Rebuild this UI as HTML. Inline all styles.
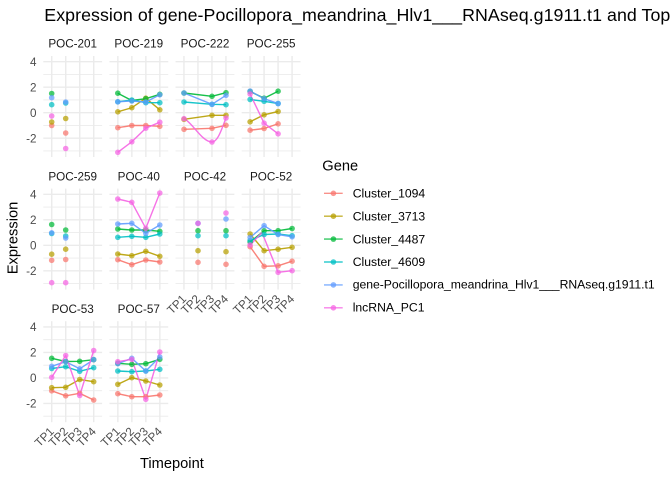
<!DOCTYPE html>
<html>
<head>
<meta charset="utf-8">
<style>
html,body{margin:0;padding:0;background:#fff;}
svg{display:block;font-family:"Liberation Sans",Arial,sans-serif;}
.gM{stroke:#EBEBEB;stroke-width:1.42;}
.gm{stroke:#EBEBEB;stroke-width:0.9;}
.yt{font-size:11.7px;fill:#4D4D4D;text-anchor:end;}
.xt{font-size:11.7px;fill:#4D4D4D;text-anchor:end;}
.st{font-size:11.7px;fill:#1A1A1A;text-anchor:middle;}
.lg{font-size:12.2px;fill:#000;}
.ln{fill:none;stroke-width:1.42;stroke-linejoin:round;stroke-opacity:0.9;}
.pt{fill-opacity:0.72;}
</style>
</head>
<body>
<svg width="672" height="480" viewBox="0 0 672 480" xmlns="http://www.w3.org/2000/svg">
<rect width="672" height="480" fill="#fff"/>

<defs>
<g id="grid">
  <line class="gm" x1="0" x2="58.8" y1="18.45" y2="18.45"/>
  <line class="gm" x1="0" x2="58.8" y1="43.95" y2="43.95"/>
  <line class="gm" x1="0" x2="58.8" y1="69.45" y2="69.45"/>
  <line class="gm" x1="0" x2="58.8" y1="94.95" y2="94.95"/>
  <line class="gM" x1="0" x2="58.8" y1="5.7" y2="5.7"/>
  <line class="gM" x1="0" x2="58.8" y1="31.2" y2="31.2"/>
  <line class="gM" x1="0" x2="58.8" y1="56.7" y2="56.7"/>
  <line class="gM" x1="0" x2="58.8" y1="82.2" y2="82.2"/>
  <line class="gM" x1="8.4" x2="8.4" y1="0" y2="101"/>
  <line class="gM" x1="22.4" x2="22.4" y1="0" y2="101"/>
  <line class="gM" x1="36.4" x2="36.4" y1="0" y2="101"/>
  <line class="gM" x1="50.4" x2="50.4" y1="0" y2="101"/>
</g>
</defs>

<!-- Title -->
<text x="44.3" y="21" font-size="17.8" fill="#000" textLength="626" lengthAdjust="spacing">Expression of gene-Pocillopora_meandrina_Hlv1___RNAseq.g1911.t1 and Top</text>

<!-- Grids row 1 -->
<use href="#grid" x="43.3" y="56"/>
<use href="#grid" x="109.43" y="56"/>
<use href="#grid" x="175.56" y="56"/>
<use href="#grid" x="241.69" y="56"/>
<!-- Grids row 2 -->
<use href="#grid" x="43.3" y="188.6"/>
<use href="#grid" x="109.43" y="188.6"/>
<use href="#grid" x="175.56" y="188.6"/>
<use href="#grid" x="241.69" y="188.6"/>
<!-- Grids row 3 -->
<use href="#grid" x="43.3" y="321.2"/>
<use href="#grid" x="109.43" y="321.2"/>

<!-- Strip labels -->
<text class="st" x="72.7" y="47.7">POC-201</text>
<text class="st" x="138.8" y="47.7">POC-219</text>
<text class="st" x="205" y="47.7">POC-222</text>
<text class="st" x="271.1" y="47.7">POC-255</text>
<text class="st" x="72.7" y="180.3">POC-259</text>
<text class="st" x="138.8" y="180.3">POC-40</text>
<text class="st" x="205" y="180.3">POC-42</text>
<text class="st" x="271.1" y="180.3">POC-52</text>
<text class="st" x="72.7" y="312.9">POC-53</text>
<text class="st" x="138.8" y="312.9">POC-57</text>

<!-- Y tick labels -->
<text class="yt" x="36.5" y="65.9">4</text>
<text class="yt" x="36.5" y="91.4">2</text>
<text class="yt" x="36.5" y="116.9">0</text>
<text class="yt" x="36.5" y="142.4">-2</text>
<text class="yt" x="36.5" y="198.5">4</text>
<text class="yt" x="36.5" y="224">2</text>
<text class="yt" x="36.5" y="249.5">0</text>
<text class="yt" x="36.5" y="275">-2</text>
<text class="yt" x="36.5" y="331.1">4</text>
<text class="yt" x="36.5" y="356.6">2</text>
<text class="yt" x="36.5" y="382.1">0</text>
<text class="yt" x="36.5" y="407.6">-2</text>

<!-- X tick labels row 2 (POC-42, POC-52) -->
<text class="xt" x="187" y="299.6" transform="rotate(-45 187 299.6)">TP1</text>
<text class="xt" x="201" y="299.6" transform="rotate(-45 201 299.6)">TP2</text>
<text class="xt" x="215" y="299.6" transform="rotate(-45 215 299.6)">TP3</text>
<text class="xt" x="229" y="299.6" transform="rotate(-45 229 299.6)">TP4</text>
<text class="xt" x="253.1" y="299.6" transform="rotate(-45 253.1 299.6)">TP1</text>
<text class="xt" x="267.1" y="299.6" transform="rotate(-45 267.1 299.6)">TP2</text>
<text class="xt" x="281.1" y="299.6" transform="rotate(-45 281.1 299.6)">TP3</text>
<text class="xt" x="295.1" y="299.6" transform="rotate(-45 295.1 299.6)">TP4</text>
<!-- X tick labels row 3 (POC-53, POC-57) -->
<text class="xt" x="54.7" y="432.2" transform="rotate(-45 54.7 432.2)">TP1</text>
<text class="xt" x="68.7" y="432.2" transform="rotate(-45 68.7 432.2)">TP2</text>
<text class="xt" x="82.7" y="432.2" transform="rotate(-45 82.7 432.2)">TP3</text>
<text class="xt" x="96.7" y="432.2" transform="rotate(-45 96.7 432.2)">TP4</text>
<text class="xt" x="120.8" y="432.2" transform="rotate(-45 120.8 432.2)">TP1</text>
<text class="xt" x="134.8" y="432.2" transform="rotate(-45 134.8 432.2)">TP2</text>
<text class="xt" x="148.8" y="432.2" transform="rotate(-45 148.8 432.2)">TP3</text>
<text class="xt" x="162.8" y="432.2" transform="rotate(-45 162.8 432.2)">TP4</text>

<!-- Axis titles -->
<text x="171.9" y="468" font-size="14.67" text-anchor="middle" fill="#000">Timepoint</text>
<text x="17.5" y="238" font-size="14.67" text-anchor="middle" fill="#000" transform="rotate(-90 17.5 238)">Expression</text>

<!-- ===== Lines ===== -->
<!-- POC-219 -->
<polyline class="ln" stroke="#F8766D" points="117.8,127.7 131.8,125.5 145.8,125.5 159.8,126.3"/>
<polyline class="ln" stroke="#B79F00" points="117.8,111.8 131.8,107.7 145.8,98.2 159.8,109.8"/>
<polyline class="ln" stroke="#00BA38" points="117.8,93.2 131.8,100.5 145.8,98.7 159.8,94.3"/>
<polyline class="ln" stroke="#00BFC4" points="117.8,101.8 131.8,100 145.8,102.7 159.8,102.7"/>
<polyline class="ln" stroke="#619CFF" points="117.8,101.8 131.8,101 145.8,102 159.8,94.8"/>
<polyline class="ln" stroke="#F564E3" points="117.8,152.3 131.8,141.8 145.8,128.2 159.8,122.2"/>
<!-- POC-222 -->
<polyline class="ln" stroke="#F8766D" points="184,129.3 212,128.3 226,125.3"/>
<polyline class="ln" stroke="#B79F00" points="184,119.3 212,115.3 226,115.3"/>
<polyline class="ln" stroke="#00BA38" points="184,93 212,96.3 226,92.7"/>
<polyline class="ln" stroke="#00BFC4" points="184,102 212,104.3 226,104.7"/>
<polyline class="ln" stroke="#619CFF" points="184,93 212,104.3 226,95.3"/>
<path class="ln" stroke="#F564E3" d="M184,118.7 C192,122 202,142 212,142 C218,142 222,128 226,118"/>
<!-- POC-255 -->
<polyline class="ln" stroke="#F8766D" points="250.1,130.2 264.1,128.5 278.1,123.8"/>
<polyline class="ln" stroke="#B79F00" points="250.1,121.8 264.1,114.8 278.1,111.5"/>
<polyline class="ln" stroke="#00BA38" points="250.1,91.5 264.1,98.2 278.1,91.2"/>
<polyline class="ln" stroke="#00BFC4" points="250.1,99.5 264.1,101.3 278.1,103.5"/>
<polyline class="ln" stroke="#619CFF" points="250.1,91 264.1,98.7 278.1,103.6"/>
<polyline class="ln" stroke="#F564E3" points="250.1,94 264.1,123.2 278.1,133.8"/>
<!-- POC-40 -->
<polyline class="ln" stroke="#F8766D" points="117.8,259.7 131.8,264.7 145.8,260 159.8,262"/>
<polyline class="ln" stroke="#B79F00" points="117.8,254 131.8,255.7 145.8,251.3 159.8,256.3"/>
<polyline class="ln" stroke="#00BA38" points="117.8,229 131.8,230 145.8,230 159.8,231.3"/>
<polyline class="ln" stroke="#00BFC4" points="117.8,237.3 131.8,236.3 145.8,237.3 159.8,234"/>
<polyline class="ln" stroke="#619CFF" points="117.8,224 131.8,223.3 145.8,233.3 159.8,225"/>
<polyline class="ln" stroke="#F564E3" points="117.8,199 131.8,202.3 145.8,228.3 159.8,193"/>
<!-- POC-52 -->
<polyline class="ln" stroke="#F8766D" points="250.1,246.7 264.1,266.3 278.1,265.8 292.1,261.2"/>
<polyline class="ln" stroke="#B79F00" points="250.1,234 264.1,250.7 278.1,249.2 292.1,247.3"/>
<polyline class="ln" stroke="#00BA38" points="250.1,242 264.1,230.7 278.1,230.7 292.1,228.5"/>
<polyline class="ln" stroke="#00BFC4" points="250.1,240.5 264.1,234.5 278.1,234 292.1,235.7"/>
<polyline class="ln" stroke="#619CFF" points="250.1,237.5 264.1,225.7 278.1,234.5 292.1,236.8"/>
<polyline class="ln" stroke="#F564E3" points="250.1,245 262,232.5 278.1,272.3 292.1,270.7"/>
<!-- POC-53 -->
<polyline class="ln" stroke="#F8766D" points="51.7,390.8 65.7,395.8 79.7,393.3 93.7,400"/>
<polyline class="ln" stroke="#B79F00" points="51.7,387.7 65.7,387.3 79.7,379.5 93.7,381.7"/>
<polyline class="ln" stroke="#00BA38" points="51.7,358.3 65.7,361.5 79.7,361.3 93.7,359.7"/>
<polyline class="ln" stroke="#00BFC4" points="51.7,368.5 65.7,366.7 79.7,371.3 93.7,367.7"/>
<polyline class="ln" stroke="#619CFF" points="51.7,366.3 65.7,361.7 79.7,368.8 93.7,359.6"/>
<polyline class="ln" stroke="#F564E3" points="51.7,377.3 65.7,355.5 79.7,395.5 93.7,350.5"/>
<!-- POC-57 -->
<polyline class="ln" stroke="#F8766D" points="117.8,393.7 131.8,396.7 145.8,396.7 159.8,395"/>
<polyline class="ln" stroke="#B79F00" points="117.8,384.3 131.8,377.7 145.8,381 159.8,385"/>
<polyline class="ln" stroke="#00BA38" points="117.8,363.3 131.8,364.3 145.8,363.7 159.8,359.3"/>
<polyline class="ln" stroke="#00BFC4" points="117.8,371 131.8,371.7 145.8,371 159.8,369.3"/>
<polyline class="ln" stroke="#619CFF" points="117.8,363.7 131.8,358.3 145.8,371 159.8,357"/>
<polyline class="ln" stroke="#F564E3" points="117.8,361.7 131.8,359.3 145.8,399.3 159.8,352"/>

<!-- ===== Points ===== -->
<g class="pt">
<!-- POC-201 -->
<g fill="#F8766D"><circle cx="51.7" cy="125.5" r="2.8"/><circle cx="65.7" cy="133" r="2.8"/></g>
<g fill="#B79F00"><circle cx="51.7" cy="122" r="2.8"/><circle cx="65.7" cy="118.5" r="2.8"/></g>
<g fill="#00BA38"><circle cx="51.7" cy="93.5" r="2.8"/></g>
<g fill="#00BFC4"><circle cx="51.7" cy="104.7" r="2.8"/><circle cx="65.7" cy="103" r="2.8"/></g>
<g fill="#619CFF"><circle cx="51.7" cy="97.7" r="2.8"/><circle cx="65.7" cy="102" r="2.8"/></g>
<g fill="#F564E3"><circle cx="51.7" cy="116" r="2.8"/><circle cx="65.7" cy="148.5" r="2.8"/></g>
<!-- POC-219 -->
<g fill="#F8766D"><circle cx="117.8" cy="127.7" r="2.8"/><circle cx="131.8" cy="125.5" r="2.8"/><circle cx="145.8" cy="125.5" r="2.8"/><circle cx="159.8" cy="126.3" r="2.8"/></g>
<g fill="#B79F00"><circle cx="117.8" cy="111.8" r="2.8"/><circle cx="131.8" cy="107.7" r="2.8"/><circle cx="145.8" cy="98.2" r="2.8"/><circle cx="159.8" cy="109.8" r="2.8"/></g>
<g fill="#00BA38"><circle cx="117.8" cy="93.2" r="2.8"/><circle cx="131.8" cy="100.5" r="2.8"/><circle cx="145.8" cy="98.7" r="2.8"/><circle cx="159.8" cy="94.3" r="2.8"/></g>
<g fill="#00BFC4"><circle cx="117.8" cy="101.8" r="2.8"/><circle cx="131.8" cy="100" r="2.8"/><circle cx="145.8" cy="102.7" r="2.8"/><circle cx="159.8" cy="102.7" r="2.8"/></g>
<g fill="#619CFF"><circle cx="117.8" cy="101.8" r="2.8"/><circle cx="131.8" cy="101" r="2.8"/><circle cx="145.8" cy="102" r="2.8"/><circle cx="159.8" cy="94.8" r="2.8"/></g>
<g fill="#F564E3"><circle cx="117.8" cy="152.3" r="2.8"/><circle cx="131.8" cy="141.8" r="2.8"/><circle cx="145.8" cy="128.2" r="2.8"/><circle cx="159.8" cy="122.2" r="2.8"/></g>
<!-- POC-222 -->
<g fill="#F8766D"><circle cx="184" cy="129.3" r="2.8"/><circle cx="212" cy="128.3" r="2.8"/><circle cx="226" cy="125.3" r="2.8"/></g>
<g fill="#B79F00"><circle cx="184" cy="119.3" r="2.8"/><circle cx="212" cy="115.3" r="2.8"/><circle cx="226" cy="115.3" r="2.8"/></g>
<g fill="#00BA38"><circle cx="184" cy="93" r="2.8"/><circle cx="212" cy="96.3" r="2.8"/><circle cx="226" cy="92.7" r="2.8"/></g>
<g fill="#00BFC4"><circle cx="184" cy="102" r="2.8"/><circle cx="212" cy="104.3" r="2.8"/><circle cx="226" cy="104.7" r="2.8"/></g>
<g fill="#619CFF"><circle cx="184" cy="93" r="2.8"/><circle cx="212" cy="104.3" r="2.8"/><circle cx="226" cy="95.3" r="2.8"/></g>
<g fill="#F564E3"><circle cx="184" cy="118.7" r="2.8"/><circle cx="212" cy="142" r="2.8"/><circle cx="226" cy="118" r="2.8"/></g>
<!-- POC-255 -->
<g fill="#F8766D"><circle cx="250.1" cy="130.2" r="2.8"/><circle cx="264.1" cy="128.5" r="2.8"/><circle cx="278.1" cy="123.8" r="2.8"/></g>
<g fill="#B79F00"><circle cx="250.1" cy="121.8" r="2.8"/><circle cx="264.1" cy="114.8" r="2.8"/><circle cx="278.1" cy="111.5" r="2.8"/></g>
<g fill="#00BA38"><circle cx="250.1" cy="91.5" r="2.8"/><circle cx="264.1" cy="98.2" r="2.8"/><circle cx="278.1" cy="91.2" r="2.8"/></g>
<g fill="#00BFC4"><circle cx="250.1" cy="99.5" r="2.8"/><circle cx="264.1" cy="101.3" r="2.8"/><circle cx="278.1" cy="103.5" r="2.8"/></g>
<g fill="#619CFF"><circle cx="250.1" cy="91" r="2.8"/><circle cx="264.1" cy="98.7" r="2.8"/><circle cx="278.1" cy="103.6" r="2.8"/></g>
<g fill="#F564E3"><circle cx="250.1" cy="94" r="2.8"/><circle cx="264.1" cy="123.2" r="2.8"/><circle cx="278.1" cy="133.8" r="2.8"/></g>
<!-- POC-259 -->
<g fill="#F8766D"><circle cx="51.7" cy="260.3" r="2.8"/><circle cx="65.7" cy="259.5" r="2.8"/></g>
<g fill="#B79F00"><circle cx="51.7" cy="254.2" r="2.8"/><circle cx="65.7" cy="249.2" r="2.8"/></g>
<g fill="#00BA38"><circle cx="51.7" cy="224.5" r="2.8"/><circle cx="65.7" cy="230" r="2.8"/></g>
<g fill="#00BFC4"><circle cx="51.7" cy="233.5" r="2.8"/><circle cx="65.7" cy="236" r="2.8"/></g>
<g fill="#619CFF"><circle cx="51.7" cy="232.8" r="2.8"/><circle cx="65.7" cy="238" r="2.8"/></g>
<g fill="#F564E3"><circle cx="51.7" cy="282.7" r="2.8"/><circle cx="65.7" cy="282.7" r="2.8"/></g>
<!-- POC-40 -->
<g fill="#F8766D"><circle cx="117.8" cy="259.7" r="2.8"/><circle cx="131.8" cy="264.7" r="2.8"/><circle cx="145.8" cy="260" r="2.8"/><circle cx="159.8" cy="262" r="2.8"/></g>
<g fill="#B79F00"><circle cx="117.8" cy="254" r="2.8"/><circle cx="131.8" cy="255.7" r="2.8"/><circle cx="145.8" cy="251.3" r="2.8"/><circle cx="159.8" cy="256.3" r="2.8"/></g>
<g fill="#00BA38"><circle cx="117.8" cy="229" r="2.8"/><circle cx="131.8" cy="230" r="2.8"/><circle cx="145.8" cy="230" r="2.8"/><circle cx="159.8" cy="231.3" r="2.8"/></g>
<g fill="#00BFC4"><circle cx="117.8" cy="237.3" r="2.8"/><circle cx="131.8" cy="236.3" r="2.8"/><circle cx="145.8" cy="237.3" r="2.8"/><circle cx="159.8" cy="234" r="2.8"/></g>
<g fill="#619CFF"><circle cx="117.8" cy="224" r="2.8"/><circle cx="131.8" cy="223.3" r="2.8"/><circle cx="145.8" cy="233.3" r="2.8"/><circle cx="159.8" cy="225" r="2.8"/></g>
<g fill="#F564E3"><circle cx="117.8" cy="199" r="2.8"/><circle cx="131.8" cy="202.3" r="2.8"/><circle cx="145.8" cy="228.3" r="2.8"/><circle cx="159.8" cy="193" r="2.8"/></g>
<!-- POC-42 -->
<g fill="#F8766D"><circle cx="198" cy="262.3" r="2.8"/><circle cx="226" cy="264.3" r="2.8"/></g>
<g fill="#B79F00"><circle cx="198" cy="250.7" r="2.8"/><circle cx="226" cy="251.7" r="2.8"/></g>
<g fill="#00BA38"><circle cx="198" cy="230.7" r="2.8"/><circle cx="226" cy="230.7" r="2.8"/></g>
<g fill="#00BFC4"><circle cx="198" cy="235.7" r="2.8"/><circle cx="226" cy="235.7" r="2.8"/></g>
<g fill="#619CFF"><circle cx="198" cy="223.3" r="2.8"/><circle cx="226" cy="219" r="2.8"/></g>
<g fill="#F564E3"><circle cx="198" cy="223.3" r="2.8"/><circle cx="226" cy="213" r="2.8"/></g>
<!-- POC-52 -->
<g fill="#F8766D"><circle cx="250.1" cy="246.7" r="2.8"/><circle cx="264.1" cy="266.3" r="2.8"/><circle cx="278.1" cy="265.8" r="2.8"/><circle cx="292.1" cy="261.2" r="2.8"/></g>
<g fill="#B79F00"><circle cx="250.1" cy="234" r="2.8"/><circle cx="264.1" cy="250.7" r="2.8"/><circle cx="278.1" cy="249.2" r="2.8"/><circle cx="292.1" cy="247.3" r="2.8"/></g>
<g fill="#00BA38"><circle cx="250.1" cy="242" r="2.8"/><circle cx="264.1" cy="230.7" r="2.8"/><circle cx="278.1" cy="230.7" r="2.8"/><circle cx="292.1" cy="228.5" r="2.8"/></g>
<g fill="#00BFC4"><circle cx="250.1" cy="240.5" r="2.8"/><circle cx="264.1" cy="234.5" r="2.8"/><circle cx="278.1" cy="234" r="2.8"/><circle cx="292.1" cy="235.7" r="2.8"/></g>
<g fill="#619CFF"><circle cx="250.1" cy="237.5" r="2.8"/><circle cx="264.1" cy="225.7" r="2.8"/><circle cx="278.1" cy="234.5" r="2.8"/><circle cx="292.1" cy="236.8" r="2.8"/></g>
<g fill="#F564E3"><circle cx="250.1" cy="245" r="2.8"/><circle cx="278.1" cy="272.3" r="2.8"/><circle cx="292.1" cy="270.7" r="2.8"/></g>
<!-- POC-53 -->
<g fill="#F8766D"><circle cx="51.7" cy="390.8" r="2.8"/><circle cx="65.7" cy="395.8" r="2.8"/><circle cx="79.7" cy="393.3" r="2.8"/><circle cx="93.7" cy="400" r="2.8"/></g>
<g fill="#B79F00"><circle cx="51.7" cy="387.7" r="2.8"/><circle cx="65.7" cy="387.3" r="2.8"/><circle cx="79.7" cy="379.5" r="2.8"/><circle cx="93.7" cy="381.7" r="2.8"/></g>
<g fill="#00BA38"><circle cx="51.7" cy="358.3" r="2.8"/><circle cx="65.7" cy="361.5" r="2.8"/><circle cx="79.7" cy="361.3" r="2.8"/><circle cx="93.7" cy="359.7" r="2.8"/></g>
<g fill="#00BFC4"><circle cx="51.7" cy="368.5" r="2.8"/><circle cx="65.7" cy="366.7" r="2.8"/><circle cx="79.7" cy="371.3" r="2.8"/><circle cx="93.7" cy="367.7" r="2.8"/></g>
<g fill="#619CFF"><circle cx="51.7" cy="366.3" r="2.8"/><circle cx="65.7" cy="361.7" r="2.8"/><circle cx="79.7" cy="368.8" r="2.8"/><circle cx="93.7" cy="359.6" r="2.8"/></g>
<g fill="#F564E3"><circle cx="51.7" cy="377.3" r="2.8"/><circle cx="65.7" cy="355.5" r="2.8"/><circle cx="79.7" cy="395.5" r="2.8"/><circle cx="93.7" cy="350.5" r="2.8"/></g>
<!-- POC-57 -->
<g fill="#F8766D"><circle cx="117.8" cy="393.7" r="2.8"/><circle cx="131.8" cy="396.7" r="2.8"/><circle cx="145.8" cy="396.7" r="2.8"/><circle cx="159.8" cy="395" r="2.8"/></g>
<g fill="#B79F00"><circle cx="117.8" cy="384.3" r="2.8"/><circle cx="131.8" cy="377.7" r="2.8"/><circle cx="145.8" cy="381" r="2.8"/><circle cx="159.8" cy="385" r="2.8"/></g>
<g fill="#00BA38"><circle cx="117.8" cy="363.3" r="2.8"/><circle cx="131.8" cy="364.3" r="2.8"/><circle cx="145.8" cy="363.7" r="2.8"/><circle cx="159.8" cy="359.3" r="2.8"/></g>
<g fill="#00BFC4"><circle cx="117.8" cy="371" r="2.8"/><circle cx="131.8" cy="371.7" r="2.8"/><circle cx="145.8" cy="371" r="2.8"/><circle cx="159.8" cy="369.3" r="2.8"/></g>
<g fill="#619CFF"><circle cx="117.8" cy="363.7" r="2.8"/><circle cx="131.8" cy="358.3" r="2.8"/><circle cx="145.8" cy="371" r="2.8"/><circle cx="159.8" cy="357" r="2.8"/></g>
<g fill="#F564E3"><circle cx="117.8" cy="361.7" r="2.8"/><circle cx="131.8" cy="359.3" r="2.8"/><circle cx="145.8" cy="399.3" r="2.8"/><circle cx="159.8" cy="352" r="2.8"/></g>
</g>

<!-- ===== Legend ===== -->
<text x="322.3" y="170.7" font-size="14.67" fill="#000">Gene</text>
<g>
  <line x1="324" x2="342.7" y1="193.3" y2="193.3" stroke="#F8766D" stroke-width="1.42" stroke-opacity="0.8"/>
  <circle cx="333.4" cy="193.3" r="2.8" fill="#F8766D" fill-opacity="0.75"/>
  <text class="lg" x="352.7" y="197.5">Cluster_1094</text>

  <line x1="324" x2="342.7" y1="216.2" y2="216.2" stroke="#B79F00" stroke-width="1.42" stroke-opacity="0.8"/>
  <circle cx="333.4" cy="216.2" r="2.8" fill="#B79F00" fill-opacity="0.75"/>
  <text class="lg" x="352.7" y="220.4">Cluster_3713</text>

  <line x1="324" x2="342.7" y1="239.1" y2="239.1" stroke="#00BA38" stroke-width="1.42" stroke-opacity="0.8"/>
  <circle cx="333.4" cy="239.1" r="2.8" fill="#00BA38" fill-opacity="0.75"/>
  <text class="lg" x="352.7" y="243.3">Cluster_4487</text>

  <line x1="324" x2="342.7" y1="262" y2="262" stroke="#00BFC4" stroke-width="1.42" stroke-opacity="0.8"/>
  <circle cx="333.4" cy="262" r="2.8" fill="#00BFC4" fill-opacity="0.75"/>
  <text class="lg" x="352.7" y="266.2">Cluster_4609</text>

  <line x1="324" x2="342.7" y1="284.9" y2="284.9" stroke="#619CFF" stroke-width="1.42" stroke-opacity="0.8"/>
  <circle cx="333.4" cy="284.9" r="2.8" fill="#619CFF" fill-opacity="0.75"/>
  <text class="lg" x="352.7" y="288.6" textLength="302" lengthAdjust="spacing">gene-Pocillopora_meandrina_Hlv1___RNAseq.g1911.t1</text>

  <line x1="324" x2="342.7" y1="307.8" y2="307.8" stroke="#F564E3" stroke-width="1.42" stroke-opacity="0.8"/>
  <circle cx="333.4" cy="307.8" r="2.8" fill="#F564E3" fill-opacity="0.75"/>
  <text class="lg" x="352.7" y="311.6">lncRNA_PC1</text>
</g>
</svg>
</body>
</html>
